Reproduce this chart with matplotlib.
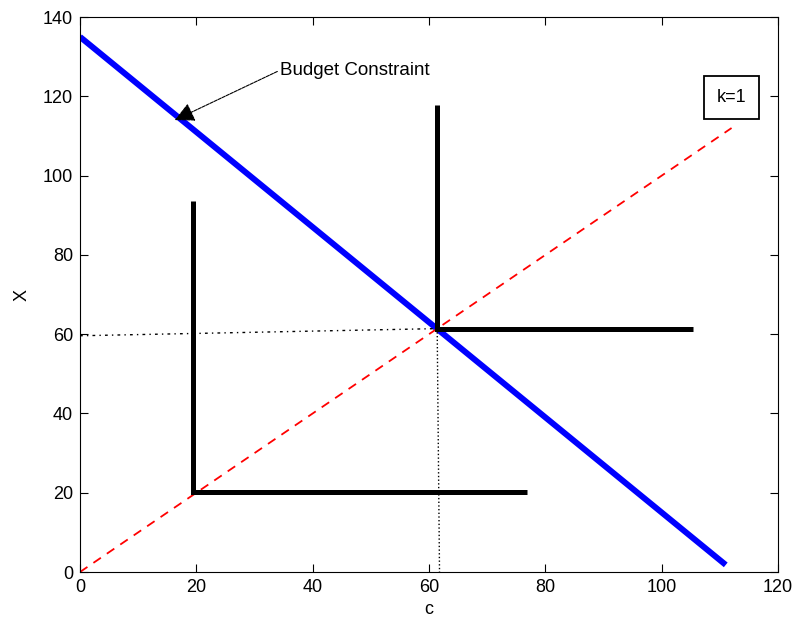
import matplotlib.pyplot as plt

plt.rcParams['font.family'] = ['Liberation Sans', 'DejaVu Sans']

# budget constraint X = 135 - 1.2 c
budget_c = [0, 111]
budget_x = [135, 1.8]

# expansion path X = k c, k = 1
ray_c = [0, 112]
ray_x = [0, 112]

# Leontief indifference curves (L shapes)
low_c = [19.4, 19.4, 76.8]
low_x = [93.6, 20.2, 20.2]
high_c = [61.4, 61.4, 105.4]
high_x = [117.8, 61.4, 61.4]

# guide lines to the optimum
hguide_c = [0, 61.4]
hguide_x = [59.6, 61.4]
vguide_c = [61.4, 61.8]
vguide_x = [61.4, 0]

fig = plt.figure(figsize=(8.03, 6.19), dpi=100)
ax = fig.add_axes([0.0996, 0.0759, 0.8694, 0.8966])

ax.plot(budget_c, budget_x, color='blue', linewidth=4.3, solid_capstyle='butt')
ax.plot(ray_c, ray_x, color='red', linestyle='--', linewidth=1.3, dashes=(5, 4))
ax.plot(low_c, low_x, color='black', linewidth=3.6, solid_joinstyle='miter', solid_capstyle='butt')
ax.plot(high_c, high_x, color='black', linewidth=3.6, solid_joinstyle='miter', solid_capstyle='butt')
ax.plot(hguide_c, hguide_x, color='black', linestyle='-.', linewidth=1.0, dashes=(2, 3, 1, 3))
ax.plot(vguide_c, vguide_x, color='black', linestyle=':', linewidth=1.0)

ax.annotate('Budget Constraint', xy=(16.3, 114), xytext=(34.4, 126.6),
            fontsize=13.5, va='center', ha='left',
            arrowprops=dict(arrowstyle='-|>,head_length=0.5,head_width=0.25', color='black',
                            linewidth=0.8, mutation_scale=24, linestyle=(0, (3, 1)),
                            relpos=(0, 0.5), shrinkA=0, shrinkB=0))

ax.text(112, 119.7, 'k=1', fontsize=13, ha='center', va='center',
        bbox=dict(boxstyle='square,pad=0.7', facecolor='white', edgecolor='black', linewidth=1.3))

ax.set_xlim(0, 120)
ax.set_ylim(0, 140)
ax.set_xticks(range(0, 121, 20))
ax.set_yticks(range(0, 141, 20))
ax.tick_params(direction='in', top=True, right=True, labelsize=13, length=6, pad=5)
ax.set_xlabel('c', fontsize=13, va='center')
ax.set_ylabel('X', fontsize=13, va='center')
ax.xaxis.set_label_coords(0.5, -0.068)
ax.yaxis.set_label_coords(-0.083, 0.5)

fig.savefig('out.png', dpi=100)
